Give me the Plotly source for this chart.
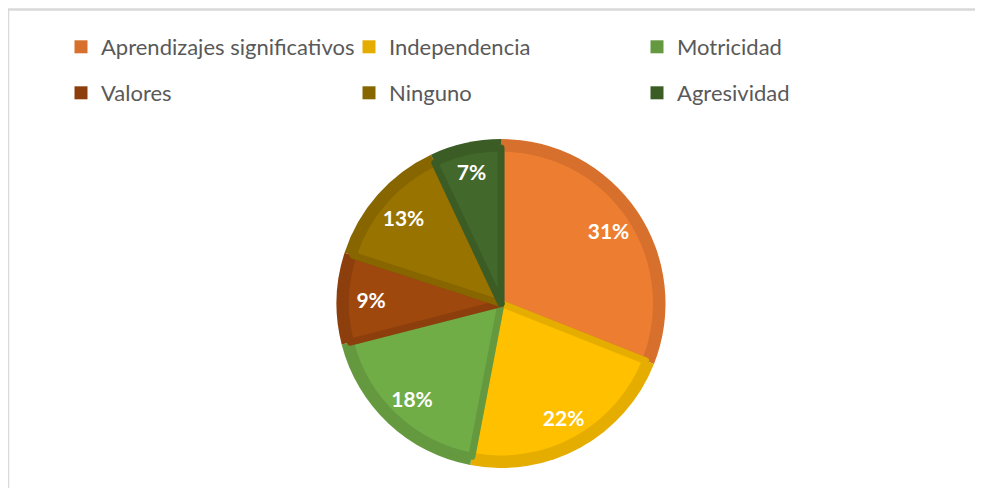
import plotly.graph_objects as go

# datos
categorias = ['Aprendizajes significativos', 'Independencia', 'Motricidad',
              'Valores', 'Ninguno', 'Agresividad']
porcentajes = [31, 22, 18, 9, 13, 7]

colores = ['#ED7D31', '#FFC000', '#70AD47', '#9E480E', '#997300', '#43682B']
bordes = ['#D6702C', '#E5AD00', '#64993F', '#8C3F0C', '#876600', '#3B5D25']

W, H = 983, 488
OFF = 8  # margen del body de la pagina
cx, cy, R = 501 - OFF, 303.5 - OFF, 164.5
inset = 9

def dom(r):
    return dict(x=[(cx - r) / W, (cx + r) / W], y=[1 - (cy + r) / H, 1 - (cy - r) / H])

fig = go.Figure()

# pie de fondo (borde oscuro)
fig.add_trace(go.Pie(labels=categorias, values=porcentajes, sort=False,
                     direction='clockwise', rotation=0, domain=dom(R),
                     marker=dict(colors=bordes, line=dict(width=0)),
                     textinfo='none', hoverinfo='skip', showlegend=False))

# pie interior (relleno)
fig.add_trace(go.Pie(labels=categorias, values=porcentajes, sort=False,
                     direction='clockwise', rotation=0, domain=dom(R - inset),
                     marker=dict(colors=colores, line=dict(color=bordes, width=7)),
                     textinfo='none', showlegend=False))

# etiquetas: anillo transparente para llevar el texto hacia afuera
fig.add_trace(go.Pie(labels=categorias, values=porcentajes, sort=False,
                     direction='clockwise', rotation=0, domain=dom(R), hole=0.58,
                     marker=dict(colors=['rgba(0,0,0,0)'] * 6, line=dict(width=0)),
                     texttemplate='%{value}%', textposition='inside',
                     insidetextorientation='horizontal',
                     textfont=dict(family='Lato', size=21, color='white', weight='bold'),
                     hoverinfo='skip', showlegend=False))

# leyenda: 3 columnas x 2 filas
col_x = [97, 385, 673]
row_y = [47, 93]
leg = {}
for i, (cat, c) in enumerate(zip(categorias, bordes)):
    row, col = divmod(i, 3)
    name = 'legend' if i == 0 else 'legend%d' % (i + 1)
    fig.add_trace(go.Scatter(x=[None], y=[None], mode='markers', name=cat,
                             marker=dict(symbol='square', size=13, color=c),
                             legend=name, showlegend=True))
    leg[name] = dict(x=(col_x[col] - 36 - OFF) / W, xanchor='left',
                     y=1 - (row_y[row] - OFF) / H, yanchor='middle',
                     bgcolor='rgba(0,0,0,0)',
                     font=dict(family='Lato', size=22, color='#595959'))

fig.update_layout(
    width=W, height=H,
    margin=dict(l=0, r=0, t=0, b=0),
    paper_bgcolor='white', plot_bgcolor='white',
    xaxis=dict(visible=False), yaxis=dict(visible=False),
    shapes=[dict(type='rect', xref='paper', yref='paper',
                 x0=0, x1=1.02, y0=-0.05, y1=1 - 1.5 / H,
                 line=dict(color='#D9D9D9', width=2.5))],
    **leg
)

fig.write_html('out.html')
